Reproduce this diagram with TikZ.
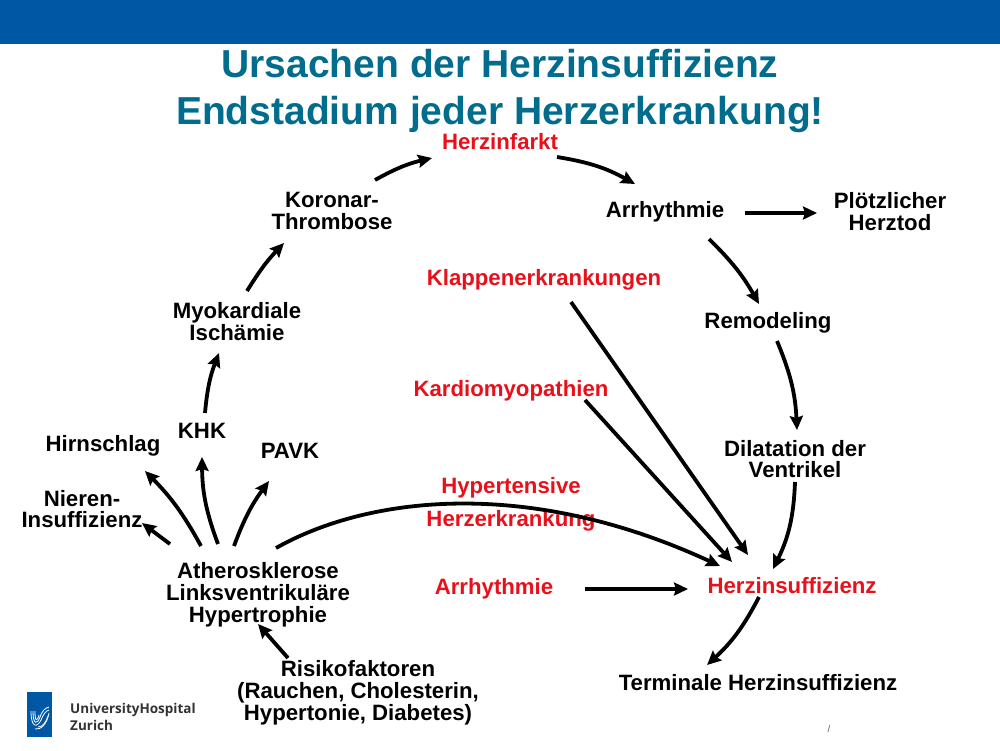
\documentclass[tikz,border=0pt]{standalone}
\usepackage{fontspec}
\setmainfont{Liberation Sans}
\newfontfamily\logofont{Open Sans}
\usetikzlibrary{arrows.meta}
\definecolor{barblue}{HTML}{0058A4}
\definecolor{titleteal}{HTML}{006C8E}
\definecolor{alertred}{HTML}{E8101A}
\tikzset{
  lbl/.style={align=center,inner sep=0pt,font=\fontsize{22.2}{21.8}\selectfont\bfseries,text=black},
  red lbl/.style={lbl,text=alertred},
  conn/.style={line width=3.8pt,-{Stealth[length=14pt,width=13pt,inset=2pt]}},
}
\begin{document}
\begin{tikzpicture}[x=1pt,y=-1pt]
\path[use as bounding box,fill=white] (0,0) rectangle (1000,750);
\fill[barblue] (0,0) rectangle (1000,44);
\node[align=center,inner sep=0pt,text=titleteal,font=\fontsize{39}{47}\selectfont\bfseries] (title) at (500,91) {Ursachen der Herzinsuffizienz\\Endstadium jeder Herzerkrankung!};
\node[red lbl] (infarkt) at (500,142) {Herzinfarkt};
\node[lbl] (arr) at (665,212) {Arrhythmie};
\node[lbl] (tod) at (890,211.5) {Plötzlicher\\Herztod};
\node[red lbl] (klappen) at (544,280) {Klappenerkrankungen};
\node[lbl] (remod) at (768,323) {Remodeling};
\node[lbl] (koronar) at (332,211) {Koronar-\\Thrombose};
\node[lbl] (myok) at (237,321.5) {Myokardiale\\Ischämie};
\node[red lbl] (kardio) at (511,391) {Kardiomyopathien};
\node[lbl] (dila) at (795,459) {Dilatation der\\Ventrikel};
\node[lbl] (khk) at (202,431) {KHK};
\node[lbl] (hirn) at (103,446) {Hirnschlag};
\node[lbl] (pavk) at (290,451) {PAVK};
\node[lbl] (nieren) at (82,509) {Nieren-\\Insuffizienz};
\node[red lbl,font=\fontsize{22.2}{32.5}\selectfont\bfseries] (hyper) at (511,504.5) {Hypertensive\\Herzerkrankung};
\node[red lbl] (arrb) at (494,589) {Arrhythmie};
\node[red lbl] (hi) at (792,586) {Herzinsuffizienz};
\node[lbl] (athero) at (258,595) {Atherosklerose\\Linksventrikuläre\\Hypertrophie};
\node[lbl] (risk) at (358,693) {Risikofaktoren\\(Rauchen, Cholesterin,\\Hypertonie, Diabetes)};
\node[lbl] (term) at (758,683) {Terminale Herzinsuffizienz};
\node[inner sep=0pt,text=black!60,font=\fontsize{10}{12}\selectfont] (page) at (829,729) {/};
% connectors (offsets from the node centres)
\draw[conn] ([shift={(43,-31)}]koronar.center) to[bend left=8] ([shift={(-68,16)}]infarkt.center);
\draw[conn] ([shift={(57,15)}]infarkt.center) to[bend left=10] ([shift={(-30,-28)}]arr.center);
\draw[conn] ([shift={(80,1)}]arr.center) -- ([shift={(-73,1.5)}]tod.center);
\draw[conn] ([shift={(44,27)}]arr.center) to[bend left=8] ([shift={(-9,-19)}]remod.center);
\draw[conn] ([shift={(9,18)}]remod.center) to[bend left=10] ([shift={(2,-29)}]dila.center);
\draw[conn] ([shift={(0,23)}]dila.center) to[bend left=12] ([shift={(-19,-17)}]hi.center);
\draw[conn] ([shift={(-33,11)}]hi.center) to[bend left=10] ([shift={(-51,-18)}]term.center);
\draw[conn] ([shift={(27,22)}]klappen.center) -- ([shift={(-44,-31)}]hi.center);
\draw[conn] ([shift={(74,9)}]kardio.center) -- ([shift={(-60,-24)}]hi.center);
\draw[conn] ([shift={(91,0)}]arrb.center) -- ([shift={(-104,3)}]hi.center);
\draw[conn] ([shift={(18,-47)}]athero.center) .. controls (370,495) and (530,478) .. ([shift={(-72,-20)}]hi.center);
\draw[conn] ([shift={(-88,-51)}]athero.center) -- ([shift={(60,14)}]nieren.center);
\draw[conn] ([shift={(-57,-49)}]athero.center) to[bend right=8] ([shift={(42,25)}]hirn.center);
\draw[conn] ([shift={(-40,-51)}]athero.center) to[bend left=10] ([shift={(0,26)}]khk.center);
\draw[conn] ([shift={(-24,-49)}]athero.center) to[bend left=8] ([shift={(-21,30)}]pavk.center);
\draw[conn] ([shift={(-70,-35)}]risk.center) -- ([shift={(0,29)}]athero.center);
\draw[conn] ([shift={(3,-18)}]khk.center) to[bend left=8] ([shift={(-18,31.5)}]myok.center);
\draw[conn] ([shift={(10,-30.5)}]myok.center) to[bend left=6] ([shift={(-48,32)}]koronar.center);
% logo
\fill[barblue] (27,692) rectangle (52,737);
\begin{scope}[white,line width=0.8pt]
\draw (31,711) .. controls (31,728) and (37,728) .. (41,720) .. controls (44,713) and (46,711) .. (49,710);
\draw (33,711) .. controls (33,725) and (37,725) .. (40,717) .. controls (42,711) and (45,708) .. (49,707);
\draw (35,711) .. controls (35,722) and (37,722) .. (39,715);
\draw (35,729) .. controls (41,730) and (47,724) .. (49,713);
\draw (38,727) .. controls (43,727) and (46,722) .. (48,716);
\end{scope}
\node[anchor=west,inner sep=0pt,text=black!80,align=left,font=\logofont\fontsize{13.5}{17}\selectfont\bfseries] (logotext) at (70,717) {UniversityHospital\\Zurich};
\end{tikzpicture}
\end{document}
